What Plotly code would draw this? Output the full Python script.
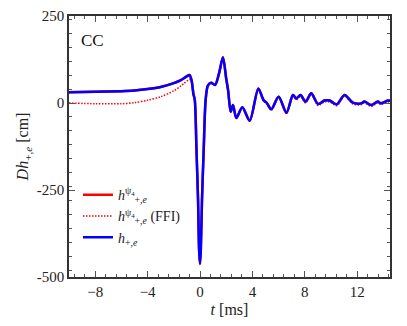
import plotly.graph_objects as go

# time grid [ms]
t = [-10, -8, -6, -5, -4, -3, -2, -1.5, -1.2, -0.9, -0.8, -0.65, -0.5, -0.4, -0.27,
     -0.15, -0.07, 0, 0.06, 0.15, 0.28, 0.43, 0.6, 0.85, 1.15, 1.45, 1.75, 2.0, 2.15,
     2.34, 2.52, 2.77, 3.23, 3.79, 4.45, 4.85, 5.1, 5.44, 6.0, 6.6,
     7.09, 7.35, 7.67, 8.06, 8.49, 9.0, 9.5, 9.89, 10.44, 11.03, 11.66, 12.3, 12.55,
     13.06, 13.57, 13.8, 14.33, 14.5]

# h_{+,e} (blue)
h_e = [31, 32, 34, 36, 40, 46, 57, 65, 72, 79, 80, 66, 25, 9, -135,
       -279, -422, -462, -422, -279, -135, 9, 50, 58, 52, 85, 131, 70, 35,
       -25, -6, -43, -12, -51, 41, 8, 0, -18, 18, -28,
       23, 13, 23, 4, 28, -3, 7, 7, -4, 23, 1, -1, 4,
       -6, 4, -1, 7, 6]

# h^{psi4}_{+,e} (red solid)
h_psi4 = [31, 32, 34, 36, 40, 46, 57, 65, 72, 79, 81, 66, 25, 9, -135,
          -279, -422, -463, -422, -279, -135, 9, 50, 58, 52, 85, 132, 70, 35,
          -25, -6, -43, -12, -51, 42, 8, 0, -18, 18, -28,
          23, 13, 23, 4, 28, -3, 7, 7, -4, 23, 1, -1, 4,
          -6, 4, -1, 7, 6]

# h^{psi4}_{+,e} (FFI) (red dotted)
h_ffi = [0, -2, -2, 1, 8, 18, 35, 48, 57, 66, 68, 60, 23, 7, -135,
         -279, -422, -462, -422, -279, -135, 9, 50, 58, 52, 85, 131, 70, 35,
         -25, -6, -43, -12, -51, 39, 5, -3, -21, 15, -31,
         20, 9, 19, 0, 25, -7, 3, 3, -8, 20, -3, -5, 0,
         -10, 0, -4, 3, 2]

y_tickvals = [250, 0, -250, -500]
y_ticktext = ["250", "0", "-250", "-500"]
x_tickvals = [-8, -4, 0, 4, 8, 12]

FONT = "Liberation Serif"

fig = go.Figure()
fig.add_trace(go.Scatter(x=t, y=h_psi4, mode="lines",
                         line=dict(color="#ff0000", width=2.5, shape="spline", smoothing=0.8),
                         name="<i>h</i><sup>ψ<sub>4</sub></sup><sub>+,<i>e</i></sub>"))
fig.add_trace(go.Scatter(x=t, y=h_ffi, mode="lines",
                         line=dict(color="#ff0000", width=1.5, dash="1.5px,1.5px",
                                   shape="spline", smoothing=0.8),
                         name="<i>h</i><sup>ψ<sub>4</sub></sup><sub>+,<i>e</i></sub> (FFI)"))
fig.add_trace(go.Scatter(x=t, y=h_e, mode="lines",
                         line=dict(color="#0000ff", width=2.5, shape="spline", smoothing=0.8),
                         name="<i>h</i><sub>+,<i>e</i></sub>"))

axis_common = dict(showline=True, linecolor="#333333", linewidth=1.5, mirror="ticks",
                   ticks="inside", ticklen=6, tickcolor="#555555", tickwidth=1,
                   showgrid=False, zeroline=False, automargin=False,
                   tickfont=dict(family=FONT, size=15, color="#222222"))

fig.update_xaxes(range=[-10, 14.5], tickvals=x_tickvals,
                 minor=dict(dtick=0.8, tick0=0, ticks="inside", ticklen=3,
                            tickcolor="#555555", tickwidth=1),
                 title=dict(text="<i>t</i> [ms]", font=dict(family=FONT, size=16, color="#222222"),
                            standoff=8),
                 **axis_common)
fig.update_yaxes(range=[-500, 250], tickvals=y_tickvals, ticktext=y_ticktext,
                 minor=dict(dtick=40, tick0=0, ticks="inside", ticklen=3,
                            tickcolor="#555555", tickwidth=1),
                 title=dict(text="<i>Dh</i><sub>+,<i>e</i></sub> [cm]",
                            font=dict(family=FONT, size=16, color="#222222"), standoff=4),
                 **axis_common)

fig.add_annotation(x=0.03, y=0.95, xref="paper", yref="paper", xanchor="left", yanchor="top",
                   text="CC", showarrow=False, font=dict(family=FONT, size=17, color="#111111"))

# page body has an 8px margin: figure is 391x310 placed at (8, 8)
fig.update_layout(width=391, height=310,
                  margin=dict(l=61, r=9, t=8, b=41),
                  paper_bgcolor="white", plot_bgcolor="white",
                  showlegend=True,
                  legend=dict(x=0.028, y=0.375, xanchor="left", yanchor="top",
                              bgcolor="rgba(0,0,0,0)", borderwidth=0,
                              font=dict(family=FONT, size=14, color="#222222"),
                              tracegroupgap=0))

fig.write_html("out.html")
